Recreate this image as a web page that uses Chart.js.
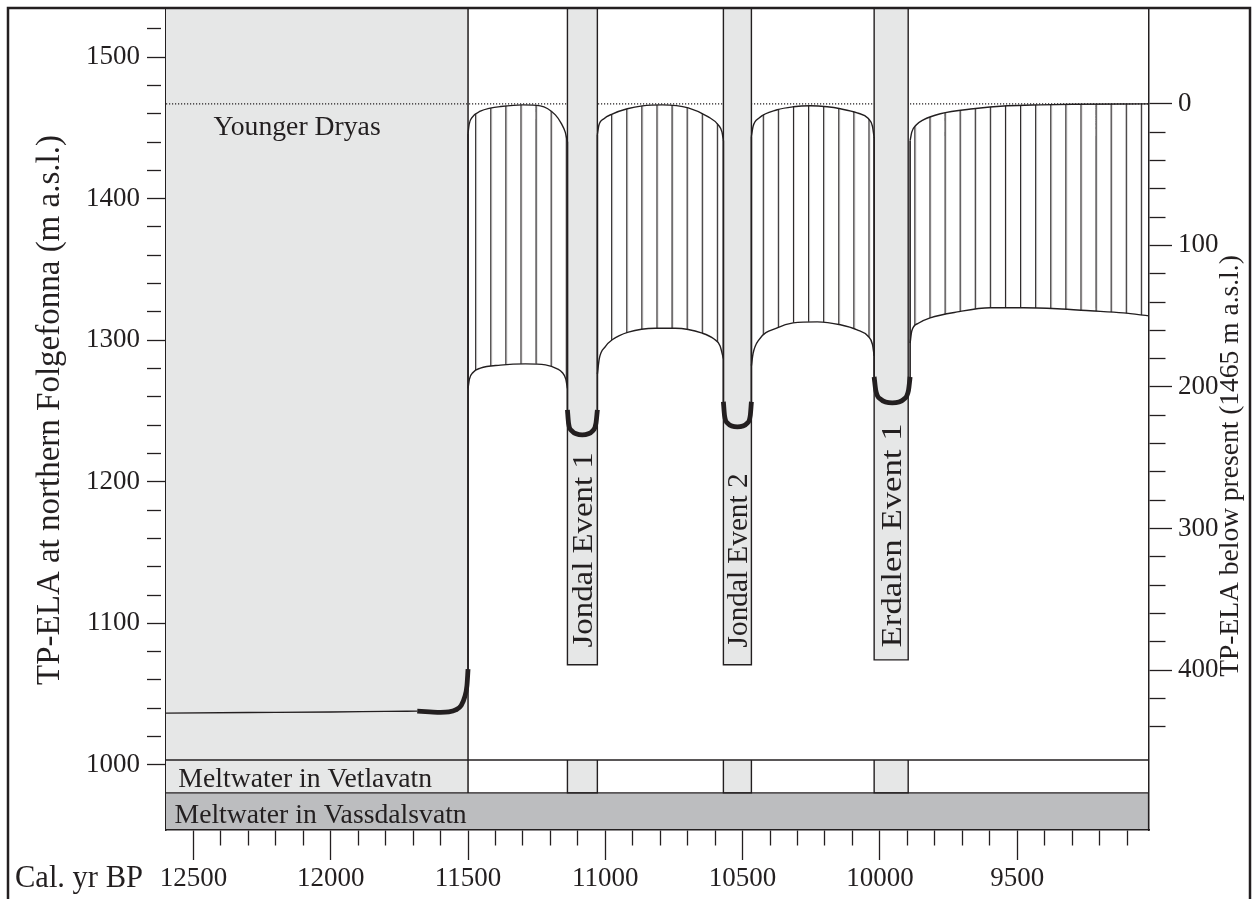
<!DOCTYPE html>
<html>
<head>
<meta charset="utf-8">
<script src="https://cdn.jsdelivr.net/npm/chart.js@4.4.1/dist/chart.umd.min.js"></script>
<style>
  html, body { margin: 0; padding: 0; background: #ffffff; }
  canvas { display: block; }
</style>
</head>
<body>
<canvas id="c" width="1253" height="899"></canvas>
<script>
// ================= DATA =================
// axis ticks and labels
const yearTicks = [12500,12400,12300,12200,12100,12000,11900,11800,11700,11600,11500,11400,11300,11200,11100,11000,
                   10900,10800,10700,10600,10500,10400,10300,10200,10100,10000,9900,9800,9700,9600,9500,9400,9300,9200,9100];
const yearLabels = [12500,12000,11500,11000,10500,10000,9500];
const elaTicks = [1000,1020,1040,1060,1080,1100,1120,1140,1160,1180,1200,1220,1240,1260,1280,1300,
                  1320,1340,1360,1380,1400,1420,1440,1460,1480,1500,1520];
const elaLabels = [1000,1100,1200,1300,1400,1500];
const belowTicks = [0,20,40,60,80,100,120,140,160,180,200,220,240,260,280,300,320,340,360,380,400,420,440];
const belowLabels = [0,100,200,300,400];

// axis extent (cal. yr BP, m a.s.l.)
const yearOld = 12600, yearYoung = 9020;
const elaMin = 954, elaMax = 1534;
const presentEla = 1467;          // dotted "present" level = 0 on right axis

// periods
const youngerDryasEnd = 11500;
const eventNames = ['Jondal Event 1', 'Jondal Event 2', 'Erdalen Event 1'];
const eventStart = [11138, 10570, 10021];
const eventEnd   = [11029, 10468, 9897];
const eventBase  = [1070.7, 1070.7, 1074.2];
const vetlavatnTop = 1003.5;
const vassdalsvatnTop = 980.2;

// TP-ELA curves  [cal. yr BP, m a.s.l.]
const ydLine  = [[12600,1036.6],[12300,1037.0],[12000,1037.4],[11800,1037.8],[11685,1038.0]];
const ydThick = [[11685,1038.0],[11640,1037.5],[11600,1037.1],[11570,1037.4],[11545,1038.8],[11525,1042.0],[11512,1048],[11504,1056],[11500,1067.6]];

const seg1Upper = [[11500,1446.0],[11496,1452.5],[11485,1457.5],[11455,1461.8],[11419,1464.0],[11382,1465.1],[11302,1466.3],[11237,1465.6],[11182,1459.2],[11160,1453.0],[11146,1447.0],[11138,1440.0]];
const seg1Lower = [[11500,1266.0],[11495,1272.5],[11482,1277.2],[11455,1280.3],[11382,1282.4],[11291,1283.3],[11218,1282.6],[11175,1279.8],[11157,1277.2],[11144,1272.5],[11138,1266.0]];
const jondal1Curve = [[11138,1250.8],[11134,1241.5],[11122,1236.0],[11084,1233.2],[11046,1236.0],[11034,1241.5],[11029,1250.8]];

const seg2Upper = [[11029,1445.0],[11024,1451.5],[11005,1456.5],[10975,1459.8],[10920,1463.5],[10865,1465.6],[10793,1466.3],[10698,1464.2],[10625,1457.8],[10588,1452.0],[10575,1447.0],[10570,1441.0]];
const seg2Lower = [[11029,1276.0],[11022,1287.0],[11000,1295.5],[10975,1300.3],[10916,1305.7],[10818,1308.5],[10745,1308.5],[10647,1305.0],[10605,1301.0],[10582,1296.0],[10570,1287.0]];
const jondal2Curve = [[10570,1256.5],[10566,1247.0],[10554,1241.3],[10519,1238.8],[10484,1241.3],[10472,1247.0],[10468,1256.5]];

const seg3Upper = [[10468,1444.0],[10462,1451.0],[10440,1457.0],[10374,1462.8],[10316,1464.9],[10254,1465.6],[10192,1464.9],[10144,1463.5],[10083,1460.6],[10043,1456.8],[10027,1451.0],[10021,1443.0]];
const seg3Lower = [[10468,1282.0],[10462,1290.5],[10440,1300.5],[10374,1308.8],[10316,1312.3],[10228,1313.0],[10144,1310.9],[10083,1307.3],[10043,1302.8],[10027,1297.0],[10021,1289.0]];
const erdalenCurve = [[10021,1274.1],[10015,1264.5],[9997,1258.3],[9955,1255.7],[9913,1258.3],[9896,1264.5],[9890,1274.1]];

const seg4Upper = [[9890,1441.0],[9884,1447.0],[9868,1452.0],[9842,1455.7],[9780,1460.0],[9660,1463.5],[9536,1465.6],[9416,1466.3],[9296,1466.7],[9020,1467.0]];
const seg4Lower = [[9890,1298.0],[9884,1306.5],[9860,1312.0],[9817,1315.8],[9718,1320.0],[9598,1322.9],[9478,1322.9],[9354,1322.2],[9234,1320.8],[9114,1319.3],[9020,1317.2]];

// ================= STYLE =================
const INK = '#231f20';
const LIGHT = '#e6e7e7';
const DARK = '#bcbdbf';
const SERIF = '"Liberation Serif", "Times New Roman", Times, serif';
const serif = s => s + 'px ' + SERIF;

const canvas = document.getElementById('c');
const mainCtx = canvas.getContext('2d');

function hatch(offsetPx) {
  const pc = document.createElement('canvas');
  pc.width = 15; pc.height = 10;
  const g = pc.getContext('2d');
  g.fillStyle = INK;
  g.fillRect(0, 0, 1.2, 10);
  const pat = mainCtx.createPattern(pc, 'repeat');
  pat.setTransform(new DOMMatrix([15.1 / 15, 0, 0, 1, offsetPx, 0]));
  return pat;
}

// ================= DATASETS =================
const datasets = [];
const P = arr => arr.map(([x, y]) => ({x, y}));
function add(ds) {
  datasets.push(Object.assign({
    pointRadius: 0, pointHoverRadius: 0, tension: 0, borderColor: INK,
    borderWidth: 1.3, fill: false, borderJoinStyle: 'round'
  }, ds));
  return datasets.length - 1;
}
function rect(x1, x2, top, bot, color, order) {
  add({data: P([[x1, top], [x2, top]]), borderWidth: 0, borderColor: 'rgba(0,0,0,0)',
       backgroundColor: color, fill: {value: bot}, order});
}
function outline(pts, order, w) {
  add({data: P(pts), order, borderWidth: w || 1.4, borderJoinStyle: 'miter'});
}
const smooth = {cubicInterpolationMode: 'monotone'};

// background areas
rect(yearOld, youngerDryasEnd, elaMax, vassdalsvatnTop, LIGHT, 100);
rect(yearOld, yearYoung, vassdalsvatnTop, elaMin, DARK, 100);
// present level (dotted)
add({data: P([[yearOld, presentEla], [yearYoung, presentEla]]), borderDash: [1.2, 1.8], borderWidth: 1.1, order: 90});
// event bands + meltwater boxes
eventNames.forEach((n, i) => {
  const s = eventStart[i], e = eventEnd[i], b = eventBase[i];
  rect(s, e, elaMax, b, LIGHT, 80);
  outline([[s, elaMax], [s, b], [e, b], [e, elaMax]], 79);
  rect(s, e, vetlavatnTop, vassdalsvatnTop, LIGHT, 80);
  outline([[s, vetlavatnTop], [s, vassdalsvatnTop], [e, vassdalsvatnTop], [e, vetlavatnTop]], 79);
});
// meltwater rows + Younger Dryas border
outline([[yearOld, vetlavatnTop], [yearYoung, vetlavatnTop]], 70);
outline([[yearOld, vassdalsvatnTop], [yearYoung, vassdalsvatnTop]], 70);
outline([[yearOld, elaMin], [yearYoung, elaMin], [yearYoung, vassdalsvatnTop]], 70, 2.2);
outline([[youngerDryasEnd, elaMax], [youngerDryasEnd, vassdalsvatnTop]], 70, 1.5);

// hatched TP-ELA ranges
const segs = [[seg1Lower, seg1Upper, 475.1], [seg2Lower, seg2Upper, 611.1], [seg3Lower, seg3Upper, 762.7], [seg4Lower, seg4Upper, 929.4]];
segs.forEach(([lo, up, off]) => {
  add(Object.assign({data: P(lo), order: 50, borderWidth: 1.4}, smooth));
  add(Object.assign({data: P(up), order: 50, borderWidth: 1.4, fill: '-1', backgroundColor: hatch(off)}, smooth));
});

// vertical connectors between curve pieces (from the curve end points)
const chain = [ydThick, seg1Upper, jondal1Curve, seg2Upper, jondal2Curve, seg3Upper, erdalenCurve, seg4Upper];
for (let i = 0; i < chain.length - 1; i++) {
  const a = chain[i][chain[i].length - 1], b = chain[i + 1][0];
  add({data: P([a, b]), order: 40, borderWidth: 1.6});
}
add(Object.assign({data: P(ydLine), order: 40, borderWidth: 1.4}, smooth));
[ydThick, jondal1Curve, jondal2Curve, erdalenCurve].forEach(c =>
  add(Object.assign({data: P(c), order: 30, borderWidth: 4.8, borderCapStyle: 'butt'}, smooth)));

// ================= AXES =================
function fixed(size, horizontal) {
  return function (scale) {
    if (horizontal) scale.height = size; else scale.width = size;
    scale.paddingTop = 0; scale.paddingBottom = 0; scale.paddingLeft = 0; scale.paddingRight = 0;
  };
}
function tickSetter(values) {
  return function (scale) { scale.ticks = values.map(v => ({value: v})); };
}
function gridFor(len, minorLen, labels) {
  return {
    drawOnChartArea: false, drawTicks: true, tickLength: len, tickColor: INK, tickWidth: 1.3, color: INK,
    tickBorderDash: ctx => (ctx.tick && !labels.includes(ctx.tick.value)) ? [minorLen, 400] : []
  };
}
const tickFont = {family: SERIF, size: 27};

const annotations = {
  id: 'annotations',
  afterDraw(chart) {
    const {ctx, scales: {x, y}} = chart;
    ctx.save();
    ctx.fillStyle = INK;
    ctx.textBaseline = 'alphabetic';
    // horizontal labels
    ctx.font = serif(27.7); ctx.textAlign = 'left';
    ctx.fillText('Younger Dryas', x.getPixelForValue(12427), y.getPixelForValue(1445));
    ctx.fillText('Meltwater in Vetlavatn', x.getPixelForValue(12555), y.getPixelForValue(984.6));
    ctx.fillText('Meltwater in Vassdalsvatn', x.getPixelForValue(12569), y.getPixelForValue(959.2));
    ctx.font = serif(30.5);
    ctx.fillText('Cal. yr BP', 15, 887);

    function vText(text, px, py, size, align, targetLen) {
      ctx.save();
      ctx.translate(px, py);
      ctx.rotate(-Math.PI / 2);
      ctx.font = serif(size);
      ctx.textAlign = align;
      if (targetLen) { const w = ctx.measureText(text).width; ctx.scale(targetLen / w, 1); }
      ctx.fillText(text, 0, 0);
      ctx.restore();
    }
    // event labels
    const lens = [195, 174, 224];
    eventNames.forEach((n, i) => {
      const cx = (x.getPixelForValue(eventStart[i]) + x.getPixelForValue(eventEnd[i])) / 2;
      vText(n, cx + 10, y.getPixelForValue(1083), 30, 'left', lens[i]);
    });
    // axis titles
    vText('TP-ELA at northern Folgefonna (m a.s.l.)', 59, 410, 33, 'center');
    vText('TP-ELA below present (1465 m a.s.l.)', 1238, 466, 27.5, 'center');
    // outer frame
    ctx.strokeStyle = INK; ctx.lineWidth = 2.5;
    ctx.strokeRect(8, 8, 1242, 1000);
    ctx.restore();
  }
};

new Chart(canvas, {
  type: 'line',
  data: {datasets},
  options: {
    responsive: false, animation: false, devicePixelRatio: 1, events: [],
    layout: {padding: {top: 9, left: 0, right: 0, bottom: 0}},
    plugins: {legend: {display: false}, tooltip: {enabled: false}, title: {display: false}},
    scales: {
      x: {
        type: 'linear', position: 'bottom', reverse: true, min: yearYoung, max: yearOld,
        afterBuildTicks: tickSetter(yearTicks), afterFit: fixed(69, true),
        grid: gridFor(30, 15, yearLabels),
        border: {display: true, color: INK, width: 1.5},
        ticks: {autoSkip: false, maxRotation: 0, minRotation: 0, padding: 3, color: INK, font: tickFont,
                callback: v => yearLabels.includes(v) ? String(v) : ''}
      },
      y: {
        type: 'linear', position: 'left', min: elaMin, max: elaMax,
        afterBuildTicks: tickSetter(elaTicks), afterFit: fixed(166, false),
        grid: gridFor(19, 14, elaLabels),
        border: {display: true, color: INK, width: 1.5},
        ticks: {autoSkip: false, padding: 7, color: INK, font: tickFont,
                callback: v => elaLabels.includes(v) ? String(v) : ''}
      },
      y2: {
        type: 'linear', position: 'right', reverse: true,
        min: presentEla - elaMax, max: presentEla - elaMin,
        afterBuildTicks: tickSetter(belowTicks), afterFit: fixed(104, false),
        grid: gridFor(23, 16, belowLabels),
        border: {display: true, color: INK, width: 1.5},
        ticks: {autoSkip: false, padding: 6, color: INK, font: tickFont,
                callback: v => belowLabels.includes(v) ? String(v) : ''}
      }
    }
  },
  plugins: [annotations]
});
</script>
</body>
</html>
